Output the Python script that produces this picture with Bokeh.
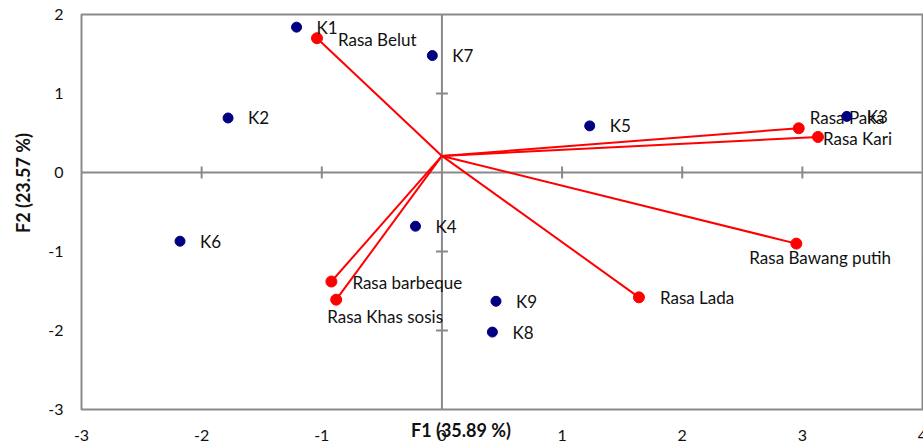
import math
from bokeh.plotting import figure
from bokeh.models import ColumnDataSource, Range1d
from bokeh.core.properties import value
from bokeh.embed import file_html
from bokeh.resources import INLINE

# ---- data ----
obs_names = ["K1", "K2", "K3", "K4", "K5", "K6", "K7", "K8", "K9"]
obs_f1 = [-1.21, -1.78, 3.37, -0.22, 1.23, -2.18, -0.08, 0.42, 0.45]
obs_f2 = [1.84, 0.69, 0.71, -0.68, 0.59, -0.87, 1.48, -2.02, -1.63]

var_names = ["Rasa Belut", "Rasa Paka", "Rasa Kari", "Rasa Bawang putih",
             "Rasa Lada", "Rasa barbeque", "Rasa  Khas sosis"]
var_f1 = [-1.04, 2.97, 3.13, 2.95, 1.64, -0.92, -0.88]
var_f2 = [1.70, 0.56, 0.45, -0.90, -1.58, -1.38, -1.61]
vec_origin_f1 = 0.0
vec_origin_f2 = 0.21

x_ticks = [-3, -2, -1, 0, 1, 2, 3, 4]
y_ticks = [-3, -2, -1, 0, 1, 2]
x_min, x_max = -3, 4
y_min, y_max = -3, 2
x_title = "F1 (35.89 %)"
y_title = "F2 (23.57 %)"

# ---- layout / styling (screen pixels) ----
W, H = 923, 444
PL, PR, PT, PB = 81, 922, 14, 409   # plot-area box on the canvas
var_dx = [21, 11, 5, -47, 21, 21, -9]
var_dy = [1, -11, 2, 14, 0, 1, 17]

FONT = "Lato"
GRAY = "#8a8a8a"
TXT = "#111111"

ppx = (PR - PL) / (x_max - x_min)
ppy = (PB - PT) / (y_max - y_min)
xr = Range1d(x_min - PL / ppx, x_max + (W - PR) / ppx)
yr = Range1d(y_min - (H - PB) / ppy, y_max + PT / ppy)

p = figure(width=W, height=H, output_backend="svg", toolbar_location=None,
           x_range=xr, y_range=yr, min_border=0)
p.axis.visible = False
p.grid.visible = False
p.outline_line_color = None
p.background_fill_color = "white"
p.border_fill_color = "white"

# plot-area box
p.quad(left=[x_min], right=[x_max], bottom=[y_min], top=[y_max],
       fill_color=None, line_color=GRAY, line_width=2)
# zero axes
p.segment(x0=[x_min, 0], y0=[0, y_min], x1=[x_max, 0], y1=[0, y_max],
          line_color=GRAY, line_width=2)
inner_x = [t for t in x_ticks if x_min < t < x_max and t != 0]
inner_y = [t for t in y_ticks if y_min < t < y_max and t != 0]
p.scatter(x=inner_x, y=[0] * len(inner_x), marker="dash", size=12, angle=math.pi / 2,
          line_color=GRAY, line_width=2)
p.scatter(x=[0] * len(inner_y), y=inner_y, marker="dash", size=12,
          line_color=GRAY, line_width=2)

# tick labels
p.text(x=x_ticks, y=[y_min] * len(x_ticks), text=[str(t) for t in x_ticks], y_offset=26,
       text_font=value(FONT), text_font_size="16px", text_color=TXT,
       text_align="center", text_baseline="middle")
p.text(x=[x_min] * len(y_ticks), y=y_ticks, text=[str(t) for t in y_ticks], x_offset=-18,
       text_font=value(FONT), text_font_size="16px", text_color=TXT,
       text_align="right", text_baseline="middle")

# variable vectors
vsrc = ColumnDataSource(dict(x0=[vec_origin_f1] * len(var_f1), y0=[vec_origin_f2] * len(var_f2),
                             x=var_f1, y=var_f2, name=var_names, dx=var_dx, dy=var_dy))
p.segment(x0="x0", y0="y0", x1="x", y1="y", source=vsrc, line_color="#ff0000", line_width=2)
p.scatter(x="x", y="y", source=vsrc, size=11, fill_color="#ff0000", line_color="#ff0000")
p.text(x="x", y="y", text="name", source=vsrc, x_offset="dx", y_offset="dy",
       text_font=value(FONT), text_font_size="17px", text_color=TXT,
       text_align="left", text_baseline="middle")

# observations
osrc = ColumnDataSource(dict(x=obs_f1, y=obs_f2, name=obs_names))
p.scatter(x="x", y="y", source=osrc, size=10, fill_color="#000080", line_color="#000080")
p.text(x="x", y="y", text="name", source=osrc, x_offset=20, y_offset=0,
       text_font=value(FONT), text_font_size="17px", text_color=TXT,
       text_align="left", text_baseline="middle")

# axis titles
p.text(x=[(x_min + x_max) / 2], y=[y_min], text=[x_title], x_offset=-41, y_offset=20,
       text_font=value(FONT), text_font_size="18px", text_font_style="bold",
       text_color=TXT, text_align="center", text_baseline="middle")
p.text(x=[x_min], y=[(y_min + y_max) / 2], text=[y_title], x_offset=-59, y_offset=-29,
       angle=math.pi / 2, text_font=value(FONT), text_font_size="18px",
       text_font_style="bold", text_color=TXT, text_align="center", text_baseline="middle")

open("out.html", "w").write(file_html(p, INLINE))
